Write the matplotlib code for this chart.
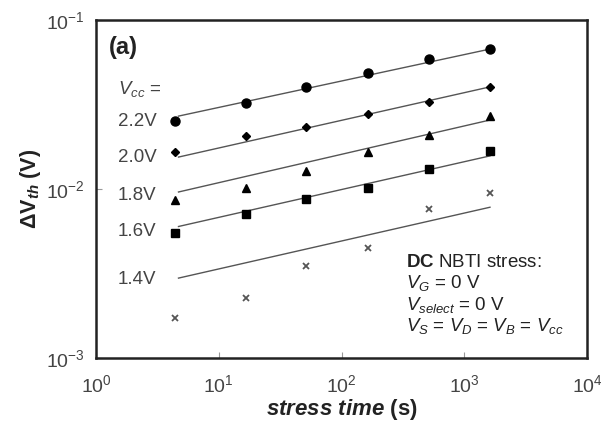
import matplotlib
matplotlib.use("Agg")
import matplotlib.pyplot as plt
import numpy as np

plt.rcParams['font.family'] = ['Liberation Sans', 'DejaVu Sans']
plt.rcParams['mathtext.fontset'] = 'custom'
plt.rcParams['mathtext.rm'] = 'Liberation Sans'
plt.rcParams['mathtext.it'] = 'Liberation Sans:italic'
plt.rcParams['mathtext.bf'] = 'Liberation Sans:bold'
plt.rcParams['mathtext.bfit'] = 'Liberation Sans:bold:italic'

# ---- data ----
stress_time = [4.4, 16.7, 51, 163, 516, 1620]
vcc_labels = ["2.2V", "2.0V", "1.8V", "1.6V", "1.4V"]
dvth_22 = [0.0252, 0.0323, 0.0402, 0.0485, 0.0587, 0.0673]
dvth_20 = [0.0166, 0.0206, 0.0233, 0.0278, 0.0327, 0.0402]
dvth_18 = [0.0086, 0.0101, 0.0128, 0.0166, 0.0209, 0.0270]
dvth_16 = [0.0055, 0.0071, 0.0087, 0.0101, 0.0131, 0.0168]
dvth_14 = [0.00173, 0.00227, 0.0035, 0.00448, 0.0076, 0.0095]

# power-law model lines (start/end values)
fit_time = [4.7, 1620]
fit_22 = [0.0270, 0.0673]
fit_20 = [0.01545, 0.0402]
fit_18 = [0.0096, 0.0256]
fit_16 = [0.0060, 0.0157]
fit_14 = [0.00297, 0.0078]

series = [
    (dvth_22, fit_22, dict(marker='o', ms=6.5, color='black')),
    (dvth_20, fit_20, dict(marker='D', ms=3.8, color='black')),
    (dvth_18, fit_18, dict(marker='^', ms=5.5, color='black')),
    (dvth_16, fit_16, dict(marker='s', ms=5.5, color='black')),
    (dvth_14, fit_14, dict(marker='x', ms=5, mew=1.3, color='#555555')),
]

fig = plt.figure(figsize=(6.01, 4.23), dpi=100)
ax = fig.add_axes([96/601, 1-358/423, 491/601, 338/423])

for vals, fit, st in series:
    ax.plot(fit_time, fit, color='#555555', lw=1.0, zorder=1)
    ax.plot(stress_time, vals, linestyle='none', zorder=2, **st)

ax.set_xscale('log')
ax.set_yscale('log')
ax.set_xlim(1, 1e4)
ax.set_ylim(1e-3, 1e-1)

ax.minorticks_off()
ax.tick_params(axis='both', which='major', direction='in', length=4,
               width=0.8, color='#999999', labelsize=14, labelcolor='#444444')
ax.tick_params(axis='x', pad=12)
ax.tick_params(axis='y', pad=8)
for s in ax.spines.values():
    s.set_linewidth(1.8)
    s.set_color('#222222')

# in-plot labels
fs = 13.5
ax.text(0.026, 0.92, "(a)", transform=ax.transAxes, fontsize=17,
        fontweight='bold', va='center', ha='left', color='#222222')
ax.text(0.045, 0.797, r"$V_{cc}$ =", transform=ax.transAxes, fontsize=fs,
        va='center', ha='left', color='#444444')
label_y = [0.701, 0.592, 0.482, 0.373, 0.231]
for lab, yy in zip(vcc_labels, label_y):
    ax.text(0.045, yy, lab, transform=ax.transAxes, fontsize=fs,
            va='center', ha='left', color='#444444')

ax.text(0.631, 0.284, r"$\mathbf{DC}$ NBTI stress:", transform=ax.transAxes,
        fontsize=fs, va='center', ha='left', color='#222222')
ax.text(0.631, 0.222, r"$V_G$ = 0 V", transform=ax.transAxes,
        fontsize=fs, va='center', ha='left', color='#222222')
ax.text(0.631, 0.157, r"$V_{select}$ = 0 V", transform=ax.transAxes,
        fontsize=fs, va='center', ha='left', color='#222222')
ax.text(0.631, 0.095, r"$V_S$ = $V_D$ = $V_B$ = $V_{cc}$", transform=ax.transAxes,
        fontsize=fs, va='center', ha='left', color='#222222')

# axis labels
ax.set_ylabel(r"$\mathbf{\Delta}\mathbf{V}_{\mathbfit{th}}$ (V)", fontsize=15.5,
              fontweight='bold', color='#222222', labelpad=2)
ax.set_xlabel(r"$\mathbfit{stress\ time}$ (s)", fontsize=16,
              fontweight='bold', color='#222222', labelpad=0)

fig.savefig("out.png", dpi=100)
